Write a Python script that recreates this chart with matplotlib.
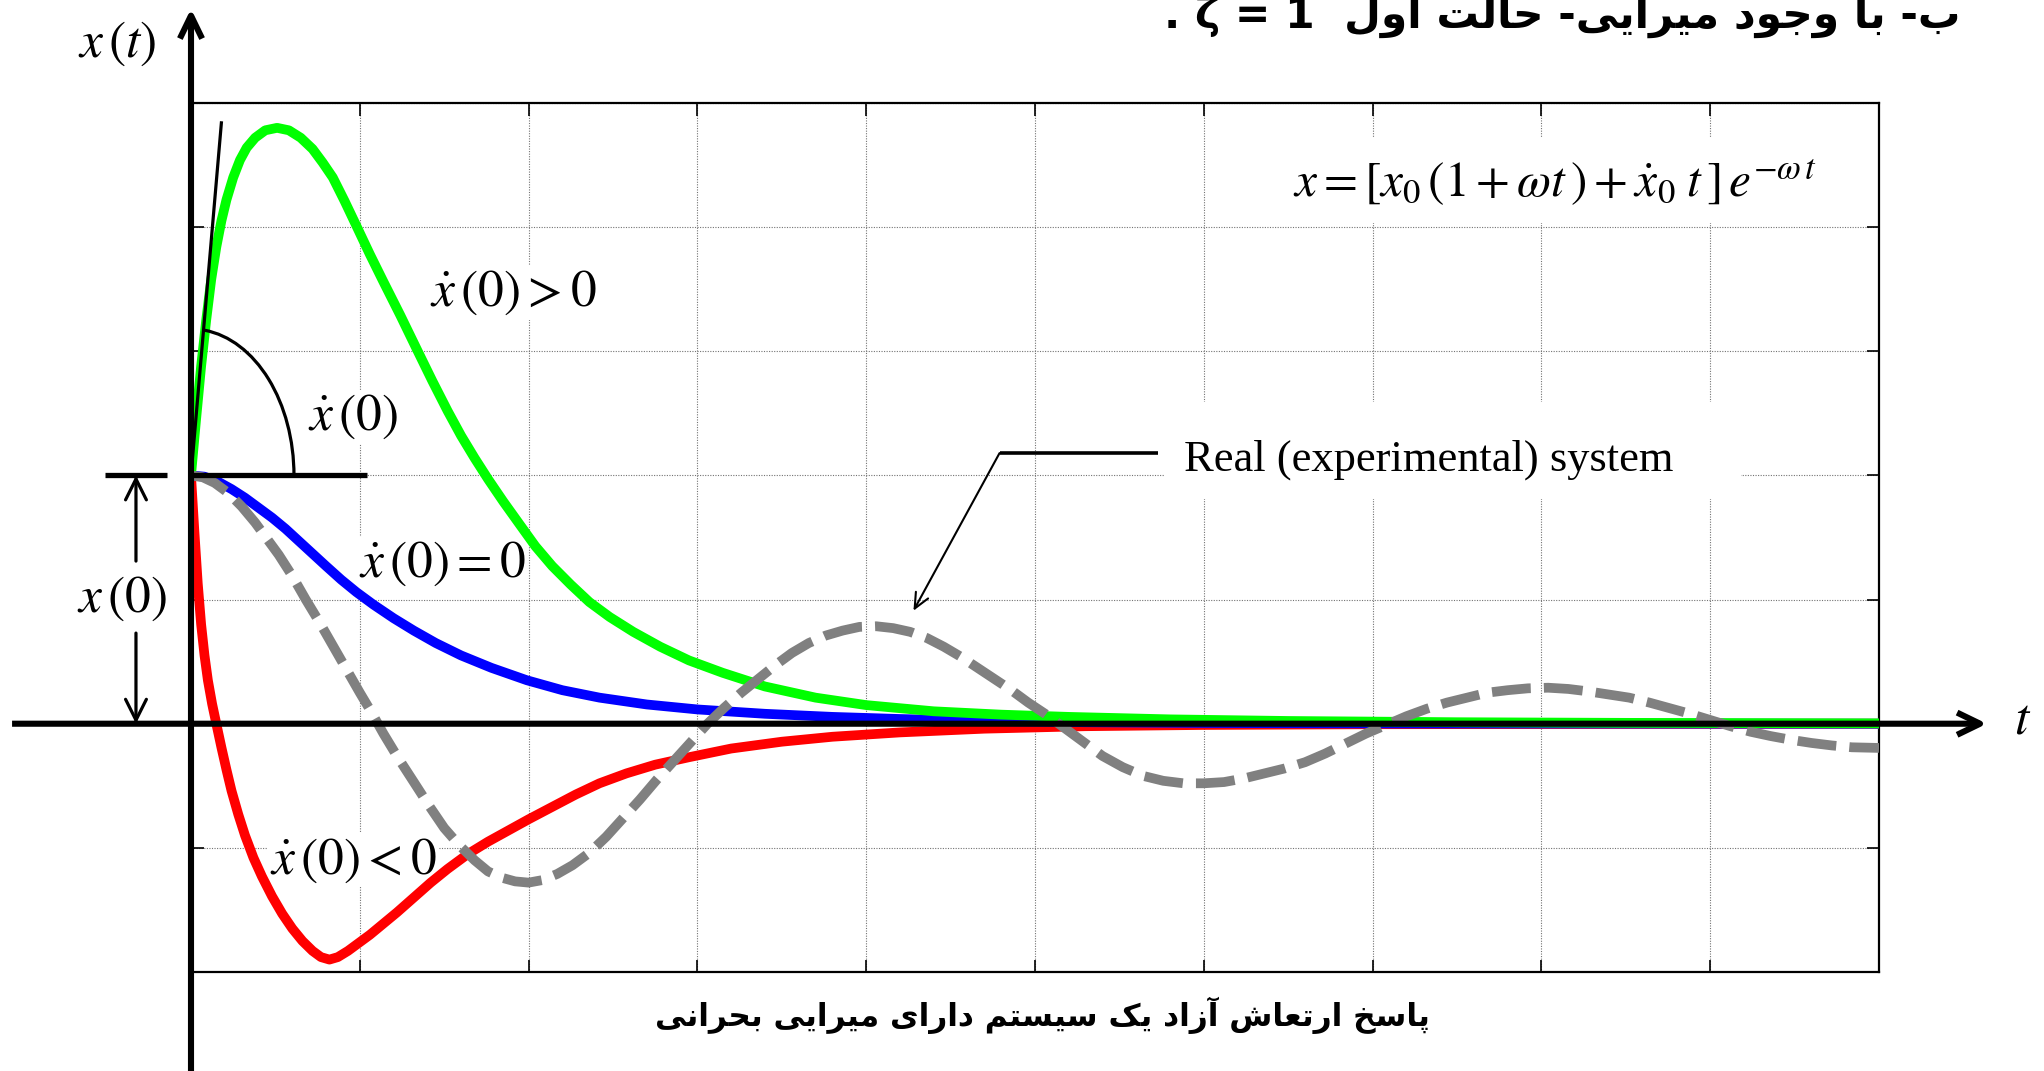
import matplotlib
matplotlib.use("Agg")
import matplotlib.pyplot as plt
from matplotlib.patches import Arc, Rectangle

plt.rcParams['mathtext.fontset'] = 'stix'
plt.rcParams['font.family'] = ['Liberation Serif', 'DejaVu Serif']

# ---------------- data (grid units) ----------------
t_green = [0, 0.03, 0.06, 0.09, 0.12, 0.15, 0.18, 0.21, 0.25, 0.29, 0.33, 0.38, 0.44, 0.51,
           0.58, 0.65, 0.72, 0.78, 0.84, 0.91, 0.98, 1.06, 1.14, 1.24, 1.34, 1.43, 1.52,
           1.60, 1.68, 1.76, 1.85, 1.95, 2.04, 2.14, 2.25, 2.36, 2.48, 2.62, 2.78, 2.95,
           3.15, 3.40, 3.70, 4.0, 4.4, 4.8, 5.2, 5.8, 6.5, 7.5, 8.5, 10.0]
x_green = [2.0, 2.45, 2.88, 3.25, 3.58, 3.84, 4.05, 4.22, 4.40, 4.54, 4.64, 4.72, 4.78, 4.80,
           4.78, 4.72, 4.63, 4.52, 4.40, 4.21, 4.01, 3.78, 3.56, 3.29, 3.01, 2.76, 2.52,
           2.32, 2.14, 1.97, 1.79, 1.60, 1.43, 1.27, 1.12, 0.98, 0.86, 0.74, 0.62, 0.51,
           0.41, 0.30, 0.21, 0.15, 0.10, 0.073, 0.055, 0.035, 0.022, 0.012, 0.007, 0.003]

t_blue = [0, 0.08, 0.16, 0.24, 0.32, 0.40, 0.48, 0.56, 0.64, 0.72, 0.80, 0.89, 0.98, 1.08,
          1.20, 1.32, 1.45, 1.60, 1.78, 1.99, 2.2, 2.42, 2.7, 3.0, 3.4, 3.8, 4.2, 4.7, 5.3,
          6.0, 7.0, 10.0]
x_blue = [2.0, 1.99, 1.95, 1.89, 1.82, 1.74, 1.66, 1.57, 1.47, 1.37, 1.27, 1.16, 1.06, 0.96,
          0.85, 0.75, 0.65, 0.55, 0.45, 0.35, 0.27, 0.21, 0.155, 0.115, 0.08, 0.055, 0.038,
          0.022, 0.012, 0.006, 0.002, 0.0]

t_red = [0, 0.02, 0.04, 0.06, 0.08, 0.10, 0.125, 0.15, 0.18, 0.21, 0.24, 0.28, 0.32, 0.37,
         0.42, 0.48, 0.54, 0.60, 0.66, 0.72, 0.77, 0.82, 0.87, 0.93, 0.99, 1.06, 1.14, 1.22,
         1.32, 1.42, 1.52, 1.64, 1.76, 1.88, 2.0, 2.14, 2.28, 2.42, 2.58, 2.75, 2.95, 3.2,
         3.5, 3.8, 4.2, 4.7, 5.3, 6.0, 7.0, 10.0]
x_red = [2.0, 1.55, 1.13, 0.80, 0.55, 0.35, 0.16, 0.0, -0.19, -0.37, -0.54, -0.73, -0.90,
         -1.08, -1.23, -1.39, -1.53, -1.65, -1.75, -1.83, -1.88, -1.90, -1.88, -1.83, -1.77,
         -1.70, -1.61, -1.52, -1.40, -1.28, -1.17, -1.05, -0.95, -0.86, -0.77, -0.67, -0.57,
         -0.48, -0.40, -0.33, -0.27, -0.20, -0.145, -0.105, -0.07, -0.04, -0.02, -0.01,
         -0.004, 0.0]

t_real = [0, 0.07, 0.14, 0.22, 0.30, 0.38, 0.45, 0.52, 0.60, 0.68, 0.76, 0.84, 0.92, 1.00,
          1.07, 1.14, 1.22, 1.32, 1.41, 1.50, 1.59, 1.68, 1.76, 1.84, 1.92, 2.00, 2.08, 2.17,
          2.26, 2.36, 2.46, 2.56, 2.66, 2.76, 2.86, 2.96, 3.06, 3.16, 3.26, 3.36, 3.46, 3.56,
          3.66, 3.76, 3.86, 3.96, 4.06, 4.16, 4.26, 4.36, 4.46, 4.56, 4.66, 4.76, 4.86, 4.96,
          5.06, 5.16, 5.28, 5.40, 5.52, 5.64, 5.76, 5.88, 6.00, 6.12, 6.24, 6.36, 6.48, 6.60,
          6.72, 6.84, 6.96, 7.08, 7.20, 7.32, 7.44, 7.56, 7.68, 7.80, 7.92, 8.04, 8.16, 8.28,
          8.40, 8.52, 8.64, 8.76, 8.88, 9.00, 9.12, 9.24, 9.36, 9.48, 9.60, 9.72, 9.84, 10.0]
x_real = [2.0, 1.985, 1.94, 1.86, 1.75, 1.62, 1.49, 1.36, 1.19, 1.00, 0.82, 0.63, 0.44, 0.25,
          0.09, -0.08, -0.26, -0.47, -0.66, -0.84, -0.98, -1.10, -1.19, -1.24, -1.27, -1.28,
          -1.26, -1.21, -1.14, -1.04, -0.91, -0.76, -0.61, -0.45, -0.30, -0.15, 0.0, 0.13,
          0.25, 0.36, 0.47, 0.57, 0.65, 0.71, 0.75, 0.78, 0.785, 0.77, 0.74, 0.69, 0.62, 0.54,
          0.45, 0.36, 0.27, 0.17, 0.08, -0.02, -0.14, -0.26, -0.35, -0.42, -0.46, -0.48,
          -0.48, -0.47, -0.44, -0.40, -0.36, -0.31, -0.24, -0.16, -0.08, -0.01, 0.06, 0.12,
          0.17, 0.21, 0.25, 0.27, 0.285, 0.29, 0.28, 0.26, 0.235, 0.21, 0.17, 0.125, 0.08,
          0.03, -0.02, -0.065, -0.10, -0.13, -0.155, -0.175, -0.19, -0.195]

x0_value = 2.0
tangent_end = (0.18, 4.84)

xticks = list(range(0, 11))
yticks = list(range(-2, 6))

label_xt = r'$x\,(t)$'
label_t = r'$t$'
label_pos = r'$\dot{x}\,(0) > 0$'
label_v0 = r'$\dot{x}\,(0)$'
label_zero = r'$\dot{x}\,(0) = 0$'
label_neg = r'$\dot{x}\,(0) < 0$'
label_x0 = r'$x\,(0)$'
formula = r'$x = [x_0\,(1 + \omega t\,) + \dot{x}_0\; t\,]\,e^{-\omega\, t}$'
real_label = 'Real (experimental) system'
title_fa = 'ب- با وجود میرایی- حالت اول'
title_math = '. ζ = 1  '
caption_fa = 'پاسخ ارتعاش آزاد یک سیستم دارای میرایی بحرانی'

# ---------------- minimal Persian shaping (presentation forms) ----------------
FORMS = {
    'ا': ('\uFE8D', '\uFE8E', None, None),
    'آ': ('\uFE81', '\uFE82', None, None),
    'ب': ('\uFE8F', '\uFE90', '\uFE91', '\uFE92'),
    'پ': ('\uFB56', '\uFB57', '\uFB58', '\uFB59'),
    'ت': ('\uFE95', '\uFE96', '\uFE97', '\uFE98'),
    'ج': ('\uFE9D', '\uFE9E', '\uFE9F', '\uFEA0'),
    'ح': ('\uFEA1', '\uFEA2', '\uFEA3', '\uFEA4'),
    'خ': ('\uFEA5', '\uFEA6', '\uFEA7', '\uFEA8'),
    'د': ('\uFEA9', '\uFEAA', None, None),
    'ر': ('\uFEAD', '\uFEAE', None, None),
    'ز': ('\uFEAF', '\uFEB0', None, None),
    'س': ('\uFEB1', '\uFEB2', '\uFEB3', '\uFEB4'),
    'ش': ('\uFEB5', '\uFEB6', '\uFEB7', '\uFEB8'),
    'ع': ('\uFEC9', '\uFECA', '\uFECB', '\uFECC'),
    'ک': ('\uFB8E', '\uFB8F', '\uFB90', '\uFB91'),
    'ك': ('\uFB8E', '\uFB8F', '\uFB90', '\uFB91'),
    'ل': ('\uFEDD', '\uFEDE', '\uFEDF', '\uFEE0'),
    'م': ('\uFEE1', '\uFEE2', '\uFEE3', '\uFEE4'),
    'ن': ('\uFEE5', '\uFEE6', '\uFEE7', '\uFEE8'),
    'و': ('\uFEED', '\uFEEE', None, None),
    'ی': ('\uFBFC', '\uFBFD', '\uFBFE', '\uFBFF'),
    'ي': ('\uFBFC', '\uFBFD', '\uFBFE', '\uFBFF'),
}


def shape(s):
    out = []
    for i, ch in enumerate(s):
        if ch not in FORMS:
            out.append(ch)
            continue
        f = FORMS[ch]
        prev = s[i - 1] if i > 0 else ''
        nxt = s[i + 1] if i + 1 < len(s) else ''
        pj = prev in FORMS and FORMS[prev][2] is not None
        nj = nxt in FORMS and f[2] is not None
        if pj and nj:
            g = f[3]
        elif pj:
            g = f[1]
        elif nj:
            g = f[2]
        else:
            g = f[0]
        out.append(g)
    return ''.join(out)


def rtl(s):
    return shape(s)[::-1]


# ---------------- figure ----------------
W, H = 2044, 1071
fig = plt.figure(figsize=(W / 100, H / 100), dpi=100)
L, R, T, B = 191, 1879, 103, 972
ax = fig.add_axes([L / W, 1 - B / H, (R - L) / W, (B - T) / H])
ax.set_xlim(0, 10)
ax.set_ylim(-2, 5)
ax.set_xticks(xticks)
ax.set_yticks(yticks)
ax.set_xticklabels([])
ax.set_yticklabels([])
ax.tick_params(direction='in', length=9, width=1.2, top=True, right=True, color='k')
ax.set_axisbelow(True)
ax.grid(True, color='0.45', linestyle=(0, (1, 1.3)), linewidth=0.8)
for sp in ax.spines.values():
    sp.set_linewidth(1.6)
    sp.set_zorder(1.2)

# white boxes behind the annotations
ax.add_patch(Rectangle((5.77, 1.81), 3.41, 0.78, fc='white', ec='none', zorder=1.0))
ax.add_patch(Rectangle((6.3, 4.03), 3.55, 0.69, fc='white', ec='none', zorder=1.0))

# curves
lw = 7.0
ax.plot(t_red, x_red, color='#FF0000', lw=lw, zorder=2.0, solid_capstyle='butt',
        solid_joinstyle='round')
ax.plot(t_blue, x_blue, color='#0000FF', lw=lw, zorder=2.1, solid_capstyle='butt',
        solid_joinstyle='round')
ax.plot(t_green, x_green, color='#00FF00', lw=lw, zorder=2.2, solid_capstyle='butt',
        solid_joinstyle='round')
ax.plot(t_real, x_real, color='#808080', lw=lw, zorder=2.3, dashes=(4.0, 1.35),
        dash_capstyle='butt', dash_joinstyle='round')

# tangent line and angle marker
ax.plot([0, tangent_end[0]], [x0_value, tangent_end[1]], color='k', lw=2.3, zorder=3,
        clip_on=False)
ax.add_patch(Arc((0, x0_value), 1.22, 2.36, theta1=0, theta2=86, color='k', lw=2.3, zorder=3))

# x(0) reference bars
ax.plot([0, 1.04], [x0_value, x0_value], color='k', lw=3.8, zorder=3.5, clip_on=False,
        solid_capstyle='butt')
ax.plot([-0.51, -0.14], [x0_value, x0_value], color='k', lw=3.8, zorder=3.5, clip_on=False,
        solid_capstyle='butt')

arrow_small = dict(arrowstyle='->,head_length=1.5,head_width=0.75', lw=2.3, color='k',
                   shrinkA=0, shrinkB=0)
ax.annotate('', xy=(-0.326, x0_value), xytext=(-0.326, 1.31), arrowprops=arrow_small,
            annotation_clip=False, zorder=4)
ax.annotate('', xy=(-0.326, 0.0), xytext=(-0.326, 0.73), arrowprops=arrow_small,
            annotation_clip=False, zorder=4)

# main axes with arrows
arrow_big = dict(arrowstyle='->,head_length=1.65,head_width=0.8', lw=4.4, color='k',
                 shrinkA=0, shrinkB=0, capstyle='butt')
ax.annotate('', xy=(10.64, 0), xytext=(-1.06, 0), arrowprops=arrow_big,
            annotation_clip=False, zorder=6)
ax.annotate('', xy=(0, 5.76), xytext=(0, -3.0), arrowprops=arrow_big,
            annotation_clip=False, zorder=6)

# leader to "Real" label
ax.plot([5.73, 4.79], [2.18, 2.18], color='k', lw=2.6, zorder=4, solid_capstyle='butt')
ax.annotate('', xy=(4.28, 0.91), xytext=(4.79, 2.18),
            arrowprops=dict(arrowstyle='->,head_length=1.1,head_width=0.5', lw=1.5,
                            color='k', shrinkA=0, shrinkB=0),
            annotation_clip=False, zorder=4)

# texts
box = dict(boxstyle='square,pad=0.05', fc='white', ec='none')
fs = 37
ax.text(-0.44, 5.48, label_xt, fontsize=fs, ha='center', va='center')
ax.text(10.85, 0.02, label_t, fontsize=fs, ha='center', va='center')
ax.text(1.91, 3.47, label_pos, fontsize=fs, ha='center', va='center', bbox=box, zorder=1.5)
ax.text(0.96, 2.47, label_v0, fontsize=fs, ha='center', va='center', bbox=box, zorder=1.5)
ax.text(1.49, 1.29, label_zero, fontsize=fs, ha='center', va='center', bbox=box, zorder=1.5)
ax.text(0.96, -1.10, label_neg, fontsize=fs, ha='center', va='center', bbox=box, zorder=1.5)
ax.text(-0.41, 1.01, label_x0, fontsize=fs, ha='center', va='center')
ax.text(8.08, 4.36, formula, fontsize=35.5, ha='center', va='center', zorder=1.5)
ax.text(5.88, 2.13, real_label, fontsize=32, ha='left', va='center', zorder=1.5)

# Persian title (cut at top edge, as in the source) and caption
fig.text(1960 / W, 1 - 28 / H, title_math + rtl(title_fa), fontsize=30.5, fontweight='bold',
         family=['DejaVu Sans'], ha='right', va='baseline')
fig.text(1042 / W, 1 - 1015 / H, rtl(caption_fa), fontsize=22.5, fontweight='bold',
         family=['DejaVu Sans'], ha='center', va='center')

fig.savefig('out.png', dpi=100)
